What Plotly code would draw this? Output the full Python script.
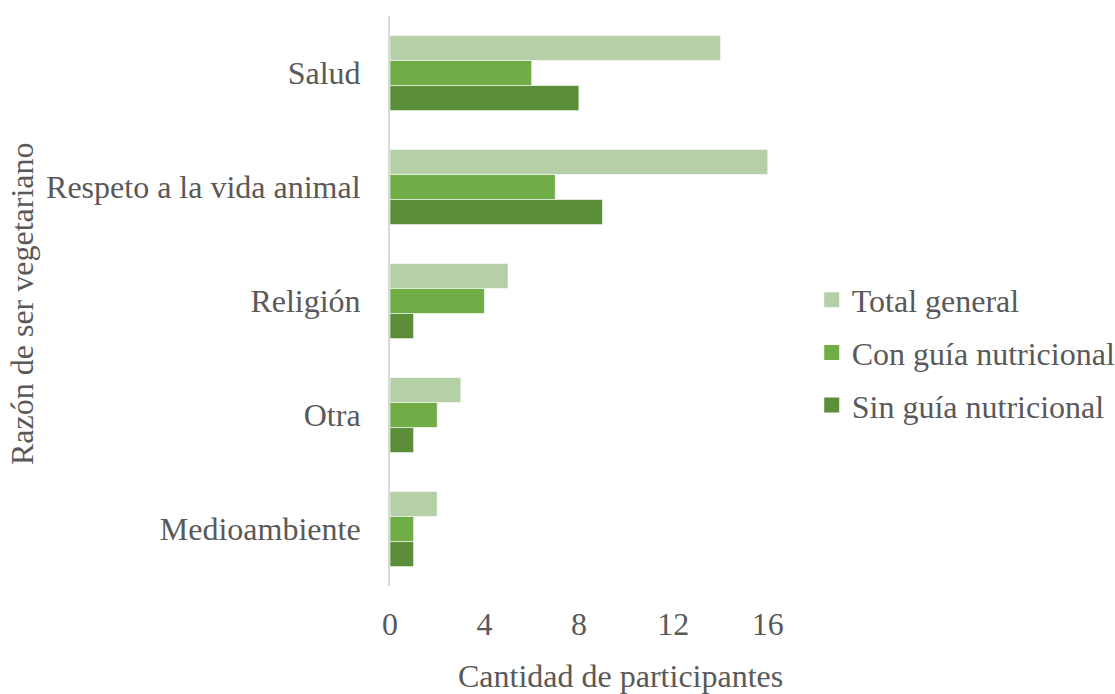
import plotly.graph_objects as go

categorias = ["Salud", "Respeto a la vida animal", "Religión", "Otra", "Medioambiente"]
total_general = [14, 16, 5, 3, 2]
con_guia = [6, 7, 4, 2, 1]
sin_guia = [8, 9, 1, 1, 1]
ticks_x = [0, 4, 8, 12, 16]

series = [
    ("Total general", total_general, "#b5cfa7"),
    ("Con guía nutricional", con_guia, "#70ad47"),
    ("Sin guía nutricional", sin_guia, "#5b8e39"),
]

FONT = "Times New Roman, Liberation Serif, DejaVu Serif, serif"
GRIS = "#595959"
SIZE = 32

# plot area in pixels: x 390..815, y 16..586
L, R, T, B = 390, 815, 16, 586
W, H = R - L, B - T

def px_x(v):
    return (v - L) / W

def px_y(v):
    return (B - v) / H

fig = go.Figure()
for i, (nombre, valores, color) in enumerate(series):
    fig.add_trace(go.Bar(
        y=categorias, x=valores, name=nombre, orientation="h",
        marker=dict(color=color, line=dict(color="rgba(255,255,255,0.6)", width=1)),
        showlegend=False,
    ))

# legend entries with square swatches
for i, (nombre, valores, color) in enumerate(series):
    fig.add_trace(go.Scatter(
        x=[None], y=[None], mode="markers", name=nombre,
        marker=dict(symbol="square", size=15, color=color),
        legendgroup=str(i), hoverinfo="skip",
    ))

fig.update_layout(
    width=1115, height=694,
    margin=dict(l=L, r=1115 - R, t=T, b=694 - B, autoexpand=False),
    paper_bgcolor="white", plot_bgcolor="white",
    barmode="group", bargap=0.34, bargroupgap=0,
    font=dict(family=FONT, size=SIZE, color=GRIS),
    showlegend=True,
    legend=dict(
        xref="container", yref="container",
        x=0.728, y=0.492, xanchor="left", yanchor="middle",
        traceorder="grouped", tracegroupgap=8,
        font=dict(family=FONT, size=SIZE, color=GRIS),
        itemwidth=30,
    ),
    xaxis=dict(
        range=[0, 18], tickvals=ticks_x, showgrid=False, zeroline=False,
        showline=False, ticks="", ticklabelstandoff=16,
        tickfont=dict(family=FONT, size=SIZE, color=GRIS),
    ),
    yaxis=dict(
        type="category", categoryorder="array", categoryarray=categorias,
        autorange="reversed", showgrid=False, zeroline=False,
        showline=True, linecolor="#d9d9d9", linewidth=2, ticks="",
        ticklabelstandoff=21,
        tickfont=dict(family=FONT, size=SIZE, color=GRIS),
    ),
    annotations=[
        dict(text="Cantidad de participantes", xref="paper", yref="paper",
             x=px_x(620), y=px_y(676), xanchor="center", yanchor="middle",
             showarrow=False, font=dict(family=FONT, size=SIZE, color=GRIS)),
        dict(text="Razón de ser vegetariano", xref="paper", yref="paper",
             x=px_x(22), y=px_y(304), xanchor="center", yanchor="middle",
             textangle=-90, showarrow=False,
             font=dict(family=FONT, size=SIZE, color=GRIS)),
    ],
)

fig.write_html("out.html")
